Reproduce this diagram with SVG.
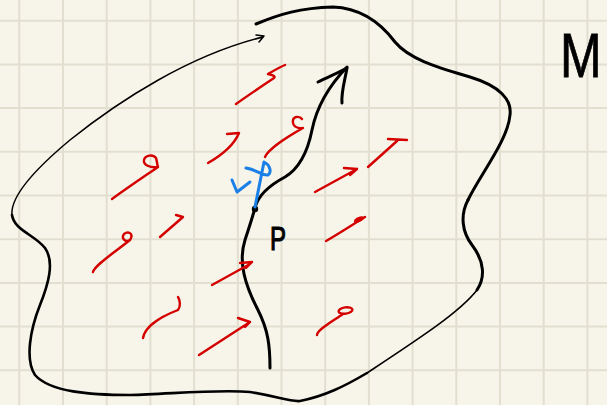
<svg xmlns="http://www.w3.org/2000/svg" width="607" height="405" viewBox="0 0 607 405">
<style>
.grid{stroke:#e2dfd1;stroke-width:2;fill:none}
.ink{fill:none;stroke:#000;stroke-linecap:round;stroke-linejoin:round}
.red{fill:none;stroke:#d40000;stroke-width:2.4;stroke-linecap:round;stroke-linejoin:round}
.blue{fill:none;stroke:#1a7fe6;stroke-width:3;stroke-linecap:round;stroke-linejoin:round}
.lbl{font-family:"Liberation Sans",Arial,sans-serif;fill:#000;stroke:#000}
</style>
<rect width="607" height="405" fill="#f7f5e9"/>
<g id="grid" class="grid">
<path d="M19.3,0V405M63,0V405M106.7,0V405M150.4,0V405M194.1,0V405M237.8,0V405M281.5,0V405M325.2,0V405M368.9,0V405M412.6,0V405M456.3,0V405M500,0V405M543.7,0V405M587.4,0V405"/>
<path d="M0,20.7H607M0,64.4H607M0,108.1H607M0,151.8H607M0,195.5H607M0,239.2H607M0,282.9H607M0,326.6H607M0,370.3H607"/>
</g>
<g id="manifold">
<path class="ink" stroke-width="3" d="M256,24 C280,14 300,8 333,7 C360,8 380,22 395,42 C410,60 440,68 470,77 C500,86 512,100 510,115 C508,140 480,175 468,200"/>
<path class="ink" stroke-width="3" d="M468,200 C460,215 462,232 472,245 C485,262 485,278 477,290"/>
<path class="ink" stroke-width="1.6" d="M477,290 C460,312 420,338 367,373"/>
<path class="ink" stroke-width="2.6" d="M367,373 C345,386 325,396 300,401 C290,402 280,397 250,392 C220,389 170,394 130,395 C90,395 50,392 35,375 C25,360 30,330 40,305 C48,285 55,262 45,248 C35,235 14,230 12,215"/>
<path class="ink" stroke-width="1.5" d="M12,215 C10,195 40,165 70,140 C120,100 190,55 263,37 M256,35 L264,36 L259,42"/>
</g>
<g id="curve">
<path class="ink" stroke-width="3" d="M270,368 C270,345 268,330 258,310 C245,285 238,262 245,240 C250,225 253,215 255,208 C258,195 270,185 285,177 C300,168 308,150 312,130 C316,110 325,90 347,67"/>
<path class="ink" stroke-width="3" d="M318,82 C328,77 340,72 347,68 C345,80 341,92 342,103"/>
<circle cx="255" cy="209" r="3.2" fill="#000"/>
</g>
<g id="vector-field">
<path class="red" d="M236,104 C250,94 262,86 274,78 C276,76 272,75 268,74 C275,70 280,67 285,65"/>
<path class="red" d="M208,163 C222,155 234,145 239,133 L227,134"/>
<path class="red" d="M265,157 C268,150 285,138 303,128 C297,129 292,126 293,120 C294,116 300,116 302,119"/>
<path class="red" d="M112,199 C130,186 145,176 158,167 C150,168 143,165 144,160 C145,155 153,154 156,158 C157,161 157,164 158,167"/>
<path class="red" d="M315,192 L357,169 M344,168 L357,169 L350,175"/>
<path class="red" d="M368,167 L397,141 M388,139 L407,140"/>
<path class="red" d="M93,272 C95,265 115,252 130,240 C125,243 121,238 124,234 C128,231 133,233 131,238 L130,240"/>
<path class="red" d="M160,237 L183,217 L176,215"/>
<path class="red" d="M212,285 L250,264 M240,263 L252,262 L246,268"/>
<path class="red" d="M143,338 C145,325 165,315 178,310 C181,306 180,300 178,297"/>
<path class="red" d="M199,355 L250,322 M238,318 L250,322 L245,327"/>
<path class="red" d="M326,241 C340,233 352,225 365,217"/>
<ellipse cx="359" cy="219.5" rx="5.5" ry="2.6" transform="rotate(-25 359 219.5)" fill="#d40000"/>
<path class="red" d="M317,335 C317,330 333,321 343,314"/>
<ellipse cx="345.5" cy="310.5" rx="7" ry="3.2" transform="rotate(-8 345.5 310.5)" fill="none" stroke="#d40000" stroke-width="2.4"/>
</g>
<g id="tangent-vector">
<path class="blue" d="M255,207 L264,162 C270,165 272,172 268,175 C262,176 258,170 246,168"/>
<path class="blue" d="M232,180 L237,192 L250,182"/>
</g>
<g id="labels">
<text class="lbl" x="270" y="250" font-size="34" stroke-width="1.2" textLength="16" lengthAdjust="spacingAndGlyphs">P</text>
<text class="lbl" transform="translate(560,77) scale(1,1.25)" x="0" y="0" font-size="50" stroke-width="0.6">M</text>
</g>
</svg>
